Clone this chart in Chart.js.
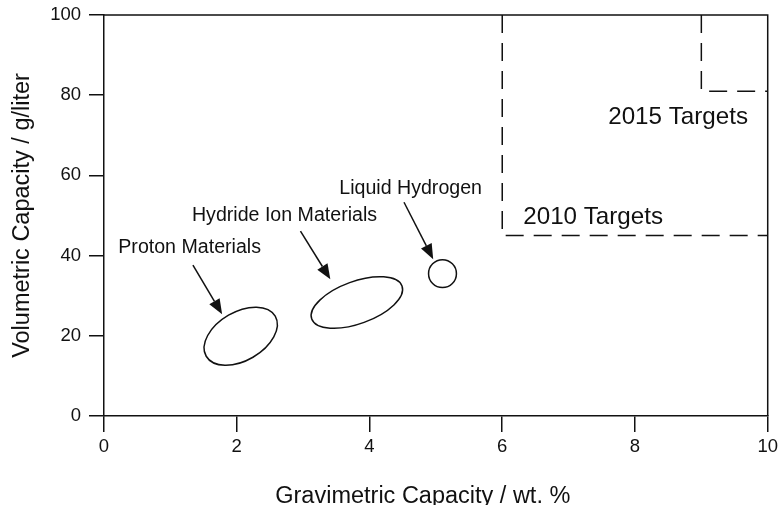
<!DOCTYPE html>
<html><head><meta charset="utf-8">
<script src="https://cdn.jsdelivr.net/npm/chart.js@4.4.1/dist/chart.umd.min.js"></script>
<style>html,body{margin:0;padding:0;background:#fff;}canvas{display:block;}</style>
</head><body>
<canvas id="c" width="780" height="505"></canvas>
<script>
// ---- data ----
const xTicks = [0, 2, 4, 6, 8, 10];
const yTicks = [0, 20, 40, 60, 80, 100];
const targetLabels = ['2010 Targets', '2015 Targets'];
const targetGrav = [6, 9];      // wt. %
const targetVol = [45, 81];     // g/liter
const regionLabels = ['Proton Materials', 'Hydride Ion Materials', 'Liquid Hydrogen'];
const regionGravMin = [1.54, 3.13, 4.89];
const regionGravMax = [2.58, 4.49, 5.31];
const regionVolMin = [14.9, 24.2, 35.5];
const regionVolMax = [24.9, 32.4, 35.5];

// ---- annotation layout (positions in data units) ----
const regionShape = [0.61, 0.44, 1.0];
const regionLabelPos = [[1.29, 42.1], [2.72, 50.1], [4.62, 56.8]];
const arrowFrom = [[1.34, 37.6], [2.96, 46.1], [4.52, 53.3]];
const arrowTo = [[1.78, 25.4], [3.41, 34.1], [4.96, 39.1]];
const targetLabelPos = [[7.37, 49.6], [8.65, 74.5]];

const FONT = "'Liberation Sans', Arial, Helvetica, sans-serif";
const xMin = xTicks[0], xMax = xTicks[xTicks.length - 1];
const yMin = yTicks[0], yMax = yTicks[yTicks.length - 1];

const datasets = targetLabels.map((lab, i) => ({
  label: lab,
  data: [
    {x: targetGrav[i], y: yMax},
    {x: targetGrav[i], y: targetVol[i]},
    {x: xMax, y: targetVol[i]}
  ],
  showLine: true,
  borderColor: '#111',
  borderWidth: 1.5,
  borderDash: [18, 10],
  pointRadius: 0,
  fill: false,
  tension: 0
}));

const annot = {
  id: 'annot',
  afterDatasetsDraw(chart) {
    const ctx = chart.ctx, xs = chart.scales.x, ys = chart.scales.y;
    const px = v => xs.getPixelForValue(v), py = v => ys.getPixelForValue(v);
    ctx.save();
    ctx.strokeStyle = '#111';
    ctx.fillStyle = '#111';
    ctx.lineWidth = 1.5;
    // frame (top & right)
    const a = chart.chartArea;
    ctx.beginPath();
    ctx.moveTo(a.left, a.top); ctx.lineTo(a.right, a.top); ctx.lineTo(a.right, a.bottom);
    ctx.stroke();
    // ellipses
    regionLabels.forEach((lab, i) => {
      const x1 = px(regionGravMin[i]), y1 = py(regionVolMin[i]);
      const x2 = px(regionGravMax[i]), y2 = py(regionVolMax[i]);
      const cx = (x1 + x2) / 2, cy = (y1 + y2) / 2;
      const ra = Math.hypot(x2 - x1, y2 - y1) / 2;
      const ang = Math.atan2(y2 - y1, x2 - x1);
      ctx.beginPath();
      ctx.ellipse(cx, cy, ra, ra * regionShape[i], ang, 0, Math.PI * 2);
      ctx.stroke();
      // arrow
      const sx = px(arrowFrom[i][0]), sy = py(arrowFrom[i][1]);
      const tx = px(arrowTo[i][0]), ty = py(arrowTo[i][1]);
      const t = Math.atan2(ty - sy, tx - sx);
      const hl = 15, hw = 6;
      const bx = tx - hl * Math.cos(t), by = ty - hl * Math.sin(t);
      ctx.beginPath(); ctx.moveTo(sx, sy); ctx.lineTo(bx, by); ctx.stroke();
      ctx.beginPath();
      ctx.moveTo(tx, ty);
      ctx.lineTo(bx + hw * Math.sin(t), by - hw * Math.cos(t));
      ctx.lineTo(bx - hw * Math.sin(t), by + hw * Math.cos(t));
      ctx.closePath(); ctx.fill();
      // label
      ctx.font = '19.6px ' + FONT;
      ctx.textAlign = 'center'; ctx.textBaseline = 'middle';
      ctx.fillText(lab, px(regionLabelPos[i][0]), py(regionLabelPos[i][1]));
    });
    ctx.font = '24.2px ' + FONT;
    ctx.textAlign = 'center'; ctx.textBaseline = 'middle';
    targetLabels.forEach((lab, i) => {
      ctx.fillText(lab, px(targetLabelPos[i][0]), py(targetLabelPos[i][1]));
    });
    ctx.restore();
  }
};

new Chart(document.getElementById('c'), {
  type: 'scatter',
  data: {datasets},
  options: {
    responsive: false,
    animation: false,
    devicePixelRatio: 1,
    layout: {padding: {left: 0, right: 12, top: 15, bottom: 0}},
    plugins: {legend: {display: false}, tooltip: {enabled: false}},
    scales: {
      x: {
        type: 'linear', min: xMin, max: xMax,
        afterBuildTicks: s => { s.ticks = xTicks.map(v => ({value: v})); },
        afterFit: s => { s.height = 89; },
        ticks: {font: {family: FONT, size: 18.5, lineHeight: 1.4}, color: '#111', padding: 2, maxRotation: 0},
        grid: {drawOnChartArea: false, drawTicks: true, tickLength: 16, color: '#111', lineWidth: 1.5},
        border: {display: true, color: '#111', width: 1.5},
        title: {display: true, text: 'Gravimetric Capacity / wt. %\u00A0\u00A0\u00A0\u00A0', color: '#111',
          font: {family: FONT, size: 23.5, lineHeight: 0.68}, padding: {top: 0, bottom: 0}}
      },
      y: {
        type: 'linear', min: yMin, max: yMax,
        afterBuildTicks: s => { s.ticks = yTicks.map(v => ({value: v})); },
        afterFit: s => { s.width = 104; },
        ticks: {font: {family: FONT, size: 18.5, lineHeight: 0.5}, color: '#111', padding: 8},
        grid: {drawOnChartArea: false, drawTicks: true, tickLength: 15, color: '#111', lineWidth: 1.5},
        border: {display: true, color: '#111', width: 1.5},
        title: {display: true, text: 'Volumetric Capacity / g/liter', color: '#111',
          font: {family: FONT, size: 23.5, lineHeight: 1}, padding: {top: 11, bottom: 0}}
      }
    }
  },
  plugins: [annot]
});
</script>
</body></html>
